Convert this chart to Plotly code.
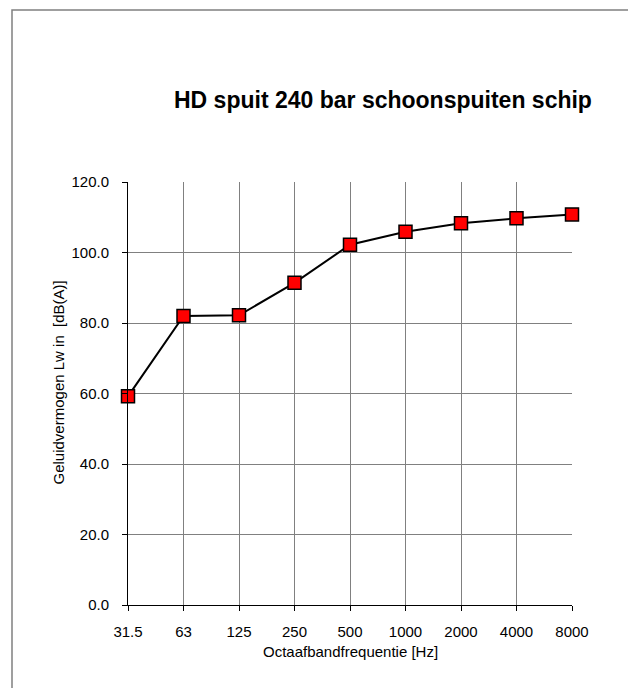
import plotly.graph_objects as go

categories = ["31.5", "63", "125", "250", "500", "1000", "2000", "4000", "8000"]
values = [59.2, 82.0, 82.2, 91.4, 102.2, 105.9, 108.3, 109.7, 110.8]
y_ticks = [0, 20, 40, 60, 80, 100, 120]
y_tick_labels = ["%.1f" % v for v in y_ticks]

W, H = 636, 688
L, T, pw, ph = 120, 174, 444, 423
R, B = W - L - pw, H - T - ph


def px(x):
    return (x - L) / pw


def py(y):
    return (T + ph - y) / ph


fig = go.Figure()
fig.add_trace(go.Scatter(
    x=list(range(len(categories))), y=values, mode="lines+markers",
    line=dict(color="black", width=2),
    marker=dict(symbol="square", size=13, color="#ff0000",
                line=dict(color="black", width=1.5)),
    showlegend=False, cliponaxis=False,
))

font = "Liberation Sans, Arial, sans-serif"
fig.update_layout(
    width=W, height=H,
    margin=dict(l=L, r=R, t=T, b=B),
    paper_bgcolor="white", plot_bgcolor="white",
    font=dict(family=font, size=15, color="black"),
    xaxis=dict(
        range=[0, len(categories) - 1],
        tickmode="array", tickvals=list(range(len(categories))), ticktext=categories,
        showgrid=True, gridcolor="#808080", gridwidth=1,
        showline=True, linecolor="black", linewidth=1,
        ticks="outside", ticklen=5, tickcolor="black",
        zeroline=False, tickfont=dict(size=15), ticklabelstandoff=8,
    ),
    yaxis=dict(
        range=[0, 120],
        tickmode="array", tickvals=y_ticks, ticktext=y_tick_labels,
        showgrid=True, gridcolor="#808080", gridwidth=1,
        showline=True, linecolor="black", linewidth=1,
        ticks="outside", ticklen=5, tickcolor="black",
        zeroline=False, tickfont=dict(size=15), ticklabelstandoff=10,
    ),
    shapes=[dict(
        type="rect", xref="paper", yref="paper",
        x0=px(4), x1=px(624), y0=py(720), y1=py(2),
        line=dict(color="#808080", width=1.5), fillcolor="rgba(0,0,0,0)",
    )],
    annotations=[
        dict(text="<b>HD spuit 240 bar schoonspuiten schip</b>",
             xref="paper", yref="paper", x=px(375), y=py(92),
             xanchor="center", yanchor="middle", showarrow=False,
             font=dict(family=font, size=23, color="black")),
        dict(text="Octaafbandfrequentie [Hz]",
             xref="paper", yref="paper", x=px(342), y=py(643),
             xanchor="center", yanchor="middle", showarrow=False,
             font=dict(family=font, size=15, color="black")),
        dict(text="Geluidvermogen Lw in  [dB(A)]", textangle=-90,
             xref="paper", yref="paper", x=px(50), y=py(374.5),
             xanchor="center", yanchor="middle", showarrow=False,
             font=dict(family=font, size=15, color="black")),
    ],
)

fig.write_html("out.html")
